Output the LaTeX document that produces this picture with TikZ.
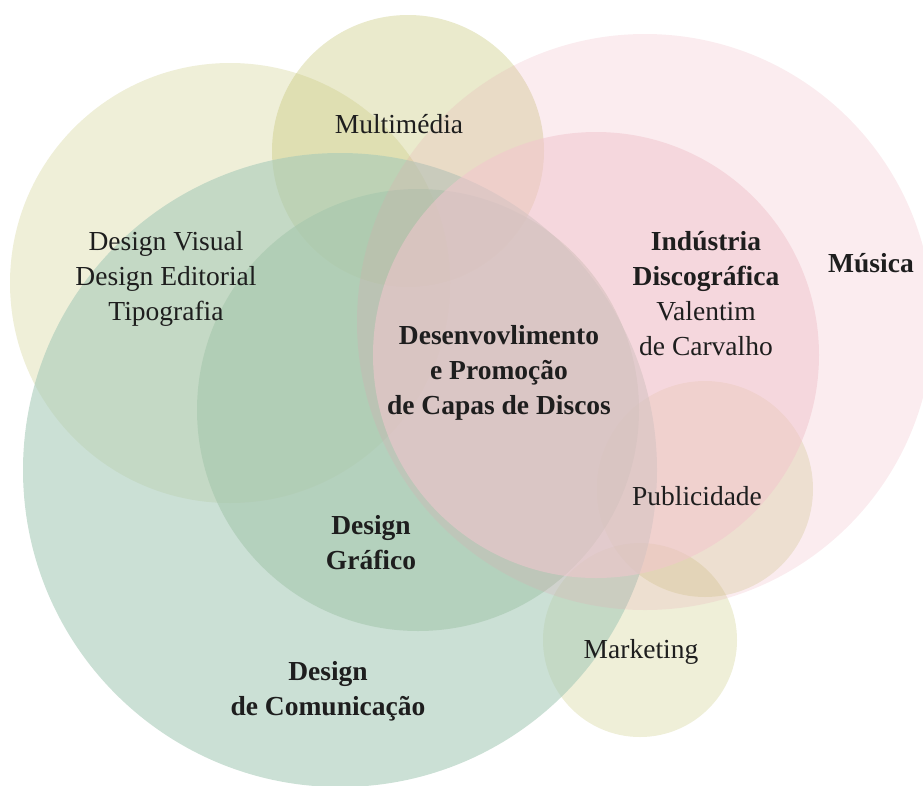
\documentclass[tikz,border=0pt]{standalone}
\usepackage{fontspec}
\setmainfont{Liberation Serif}
\definecolor{yel}{RGB}{190,190,100}
\definecolor{grn}{RGB}{168,203,185}
\definecolor{grntwo}{RGB}{166,199,173}
\definecolor{pnk}{RGB}{232,155,172}
\definecolor{pnktwo}{RGB}{242,198,206}
\definecolor{txt}{RGB}{30,30,30}
\begin{document}
\begin{tikzpicture}[x=1pt,y=-1pt,
  disc/.style={draw=none},
  lbl/.style={align=center, text=txt, inner sep=0pt, font=\fontsize{27.5}{35}\selectfont}]
\useasboundingbox (0,0) rectangle (923,785);
\begin{scope}
\clip (0,0) rectangle (923,785);
\fill[disc, yel, fill opacity=.25] (230,283) circle[radius=220pt];
\fill[disc, yel, fill opacity=.33] (408,151) circle[radius=136pt];
\fill[disc, yel, fill opacity=.25] (705,489) circle[radius=108pt];
\fill[disc, yel, fill opacity=.25] (640,640) circle[radius=97pt];
\fill[disc, grn, fill opacity=.60] (340,470) circle[radius=317pt];
\fill[disc, grntwo, fill opacity=.60] (418,410) circle[radius=221pt];
\fill[disc, pnk, fill opacity=.19] (645,322) circle[radius=288pt];
\fill[disc, pnktwo, fill opacity=.55] (596,355) circle[radius=223pt];
\end{scope}
\node[lbl] (multi) at (399,124) {Multimédia};
\node[lbl] (visual) at (166,279) {Design Visual\\Design Editorial\\Tipografia};
\node[lbl] (industria) at (706,294) {\textbf{Indústria}\\\textbf{Discográfica}\\Valentim\\de Carvalho};
\node[lbl] (musica) at (871,263) {\textbf{Música}};
\node[lbl] (capas) at (499,373) {\textbf{Desenvovlimento}\\\textbf{e Promoção}\\\textbf{de Capas de Discos}};
\node[lbl] (publi) at (697,496) {Publicidade};
\node[lbl] (grafico) at (371,543) {\textbf{Design}\\\textbf{Gráfico}};
\node[lbl] (marketing) at (641,652) {Marketing};
\node[lbl] (comunicacao) at (328,691) {\textbf{Design}\\\textbf{de Comunicação}};
\end{tikzpicture}
\end{document}
